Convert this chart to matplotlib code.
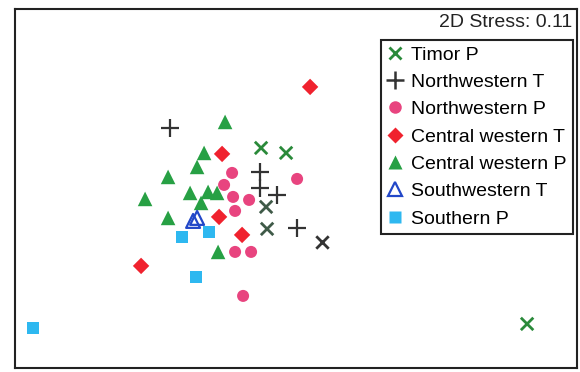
import matplotlib
matplotlib.use("Agg")
import matplotlib.pyplot as plt

plt.rcParams['font.family'] = ['Liberation Sans', 'DejaVu Sans']

# nMDS ordination scores (dimension 1, dimension 2)
timor_p_x = [-0.35, -0.10, -0.30, -0.29, 2.31]
timor_p_y = [0.42, 0.37, -0.17, -0.39, -1.34]
timor_p_col = ['#2a8a3a', '#2a8a3a', '#3f5a48', '#3f5a48', '#2a8a3a']

nw_t_x = [-1.26, -0.36, -0.36, -0.19, 0.01]
nw_t_y = [0.62, 0.18, 0.02, -0.05, -0.38]

nw_p_x = [-0.64, -0.72, -0.63, -0.47, -0.61, 0.01, -0.61, -0.45, -0.53]
nw_p_y = [0.17, 0.05, -0.07, -0.10, -0.21, 0.11, -0.62, -0.62, -1.06]

cw_t_x = [0.14, -0.74, -0.77, -0.54, -1.55]
cw_t_y = [1.03, 0.36, -0.27, -0.45, -0.76]

cw_p_x = [-0.71, -0.92, -0.99, -1.28, -1.51, -1.06, -0.88, -0.95, -0.79, -1.28, -0.78]
cw_p_y = [0.68, 0.37, 0.23, 0.13, -0.09, -0.03, -0.02, -0.13, -0.03, -0.28, -0.62]

sw_t_x = [-1.03, -0.99]
sw_t_y = [-0.31, -0.28]

s_p_x = [-1.14, -0.87, -1.00, -2.63]
s_p_y = [-0.47, -0.42, -0.87, -1.38]

other_x = [0.26]
other_y = [-0.52]

stress = 0.11

fig = plt.figure(figsize=(5.8, 3.72), dpi=100)
ax = fig.add_axes([0.026, 0.011, 0.969, 0.965])

ax.scatter(timor_p_x, timor_p_y, marker='x', s=80, c=timor_p_col, linewidths=2.0, zorder=3)
ax.scatter(other_x, other_y, marker='x', s=80, c='#333333', linewidths=2.0, zorder=3)
ax.scatter(nw_t_x, nw_t_y, marker='+', s=170, c='#333333', linewidths=1.6, zorder=3)
ax.scatter(nw_p_x, nw_p_y, marker='o', s=75, c='#e8447f', edgecolors='none', zorder=3)
ax.scatter(cw_t_x, cw_t_y, marker='D', s=70, c='#f0222e', edgecolors='none', zorder=3)
ax.scatter(cw_p_x, cw_p_y, marker='^', s=110, c='#27a044', edgecolors='none', zorder=3)
ax.scatter(sw_t_x, sw_t_y, marker='^', s=100, facecolors='none', edgecolors='#2247c8',
           linewidths=1.6, zorder=4)
ax.scatter(s_p_x, s_p_y, marker='s', s=80, c='#2eb8f0', edgecolors='none', zorder=3)

# legend proxies
handles = [
    plt.Line2D([], [], ls='none', marker='x', ms=9, mew=2.0, color='#2a8a3a'),
    plt.Line2D([], [], ls='none', marker='+', ms=13, mew=1.8, color='#333333'),
    plt.Line2D([], [], ls='none', marker='o', ms=9, mec='none', color='#e8447f'),
    plt.Line2D([], [], ls='none', marker='D', ms=8.5, mec='none', color='#f0222e'),
    plt.Line2D([], [], ls='none', marker='^', ms=10.5, mec='none', color='#27a044'),
    plt.Line2D([], [], ls='none', marker='^', ms=10.5, mfc='none', mec='#2247c8', mew=1.6),
    plt.Line2D([], [], ls='none', marker='s', ms=9, mec='none', color='#2eb8f0'),
]
labels = ['Timor P', 'Northwestern T', 'Northwestern P', 'Central western T',
          'Central western P', 'Southwestern T', 'Southern P']
leg = ax.legend(handles, labels, loc='upper right', bbox_to_anchor=(0.993, 0.914),
                borderaxespad=0, fontsize=14, frameon=True, fancybox=False,
                handlelength=0.8, handletextpad=0.45, labelspacing=0.5,
                borderpad=0.32, framealpha=1)
leg.get_frame().set_edgecolor('#222222')
leg.get_frame().set_linewidth(1.5)

ax.text(0.991, 0.963, f'2D Stress: {stress}', transform=ax.transAxes,
        ha='right', va='center', fontsize=14, color='#222222')

ax.set_xlim(-2.81, 2.81)
ax.set_ylim(-1.78, 1.81)
ax.set_xticks([])
ax.set_yticks([])
for sp in ax.spines.values():
    sp.set_linewidth(1.5)
    sp.set_color('#222222')

fig.savefig('out.png', dpi=100)
